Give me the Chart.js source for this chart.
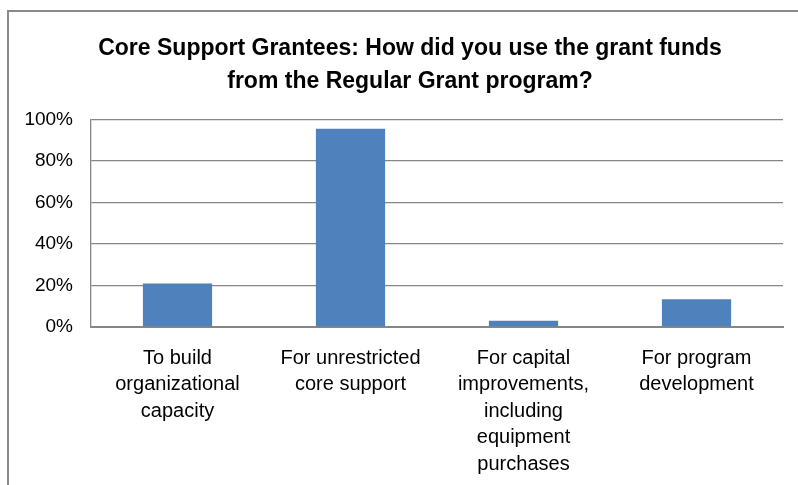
<!DOCTYPE html>
<html>
<head>
<meta charset="utf-8">
<script src="https://cdn.jsdelivr.net/npm/chart.js@4"></script>
<style>
  html, body { margin:0; padding:0; background:#fff; overflow:hidden; }
  #wrap { position:relative; width:798px; height:485px; overflow:hidden; }
  #frame { position:absolute; left:7px; top:10px; width:800px; height:480px;
           border-left:2px solid #8a8a8a; border-top:2px solid #8a8a8a; pointer-events:none; }
</style>
</head>
<body>
<div id="wrap">
  <canvas id="grantChart" width="820" height="485"></canvas>
  <div id="frame"></div>
</div>
<script>
// survey answers, share of core support grantees
const categories = [
  ['To build', 'organizational', 'capacity'],
  ['For unrestricted', 'core support'],
  ['For capital', 'improvements,', 'including', 'equipment', 'purchases'],
  ['For program', 'development']
];
const shares = [21, 95.5, 3, 13.4];
const yTicks = [0, 20, 40, 60, 80, 100];

const FONT = "'Liberation Sans', Arial, sans-serif";
const GREY = '#868686';

new Chart(document.getElementById('grantChart').getContext('2d'), {
  type: 'bar',
  data: {
    labels: categories,
    datasets: [{ data: shares, backgroundColor: '#4f81bd', borderWidth: 0,
                 categoryPercentage: 0.4, barPercentage: 1 }]
  },
  options: {
    responsive: false,
    animation: false,
    layout: { padding: 0 },
    plugins: {
      legend: { display: false },
      tooltip: { enabled: false },
      title: {
        display: true,
        text: ['Core Support Grantees: How did you use the grant funds',
               'from the Regular Grant program?'],
        color: '#000',
        font: { family: FONT, size: 23, weight: 'bold', lineHeight: 1.4 },
        padding: { top: 33, bottom: 22 }
      }
    },
    scales: {
      y: {
        min: 0, max: 100,
        afterBuildTicks: s => { s.ticks = yTicks.map(v => ({ value: v })); },
        afterFit: s => { s.width = 91; },
        ticks: { callback: v => v + '%', color: '#000', padding: 18,
                 font: { family: FONT, size: 19 } },
        grid: { color: GREY, lineWidth: 1.3, drawTicks: false },
        border: { display: true, color: GREY, width: 1.3 }
      },
      // empty right margin so the title centres where the original frame does
      spacer: {
        position: 'right', min: 0, max: 100,
        afterFit: s => { s.width = 37; },
        ticks: { display: false },
        grid: { display: false, drawTicks: false },
        border: { display: false }
      },
      x: {
        afterFit: s => { s.height = 158; },
        ticks: { color: '#000', padding: 18, maxRotation: 0, autoSkip: false,
                 font: { family: FONT, size: 20, lineHeight: 1.325 } },
        grid: { display: false, drawTicks: false },
        border: { display: true, color: GREY, width: 2 }
      }
    }
  }
});
</script>
</body>
</html>
